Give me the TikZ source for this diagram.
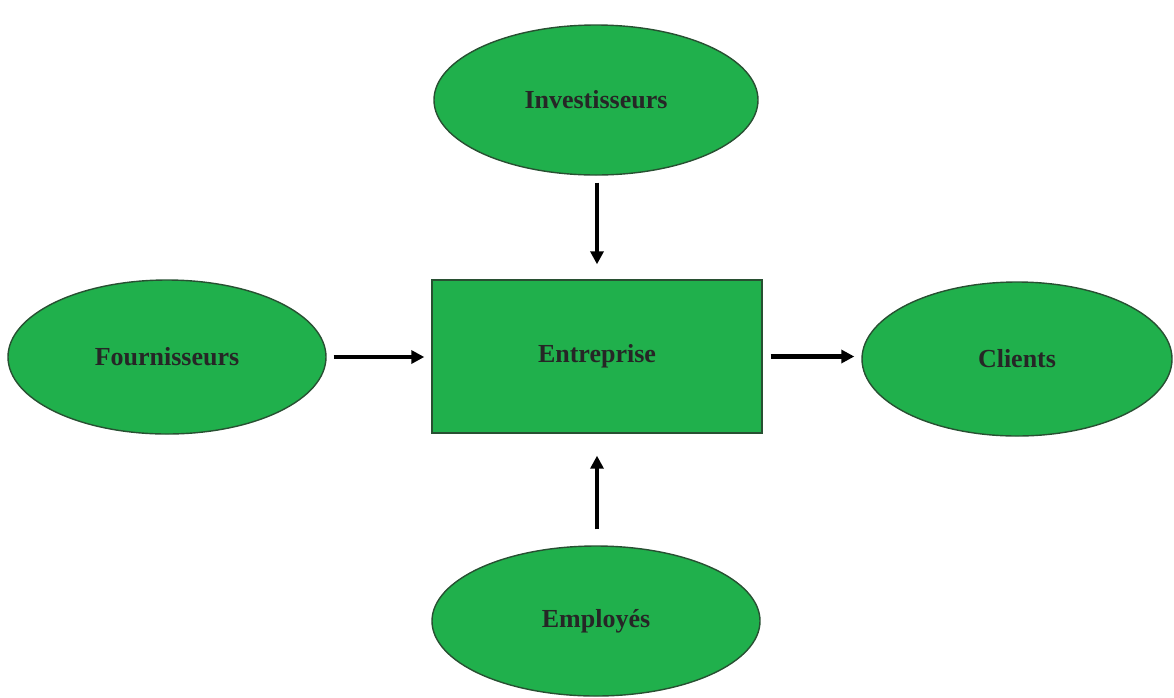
\documentclass[tikz,border=0pt]{standalone}
\usepackage{fontspec}
\setmainfont{Liberation Serif}
\usetikzlibrary{shapes.geometric,arrows.meta}
\definecolor{entgreen}{RGB}{32,176,76}
\definecolor{edgegreen}{RGB}{40,80,50}
\tikzset{
  lab/.style={font=\bfseries\fontsize{26}{30}\selectfont, text=black!85},
  actor/.style={ellipse, draw=edgegreen, line width=1.4pt, fill=entgreen, inner sep=0pt, lab},
  firm/.style={rectangle, draw=edgegreen, line width=1.4pt, fill=entgreen, inner sep=0pt,
    minimum width=330pt, minimum height=153pt, lab},
  flow/.style={line width=4.2pt, -{Triangle[length=13pt,width=13pt]}}
}
\begin{document}
\begin{tikzpicture}[x=1pt,y=-1pt]
\useasboundingbox (0,0) rectangle (1174,697);
\node[firm] (ent) at (597,356.5) {\raisebox{4pt}{Entreprise}};
\node[actor, minimum width=324pt, minimum height=150pt] (inv) at (596,100) {Investisseurs};
\node[actor, minimum width=318pt, minimum height=154pt] (fou) at (167,357) {Fournisseurs};
\node[actor, minimum width=310pt, minimum height=154pt] (cli) at (1017,359) {Clients};
\node[actor, minimum width=328pt, minimum height=150pt] (emp) at (596,621) {Employés};
\draw[flow, shorten <=7pt, shorten >=15pt] (inv.south -| ent) -- (ent.north);
\draw[flow, shorten <=16pt, shorten >=22pt] (emp.north -| ent) -- (ent.south);
\draw[flow, shorten <=7pt, shorten >=7pt] (fou.east) -- (fou.east -| ent.west);
\draw[flow, shorten <=8pt, shorten >=7pt] (ent.east) -- (ent.east -| cli.west);
\end{tikzpicture}
\end{document}
